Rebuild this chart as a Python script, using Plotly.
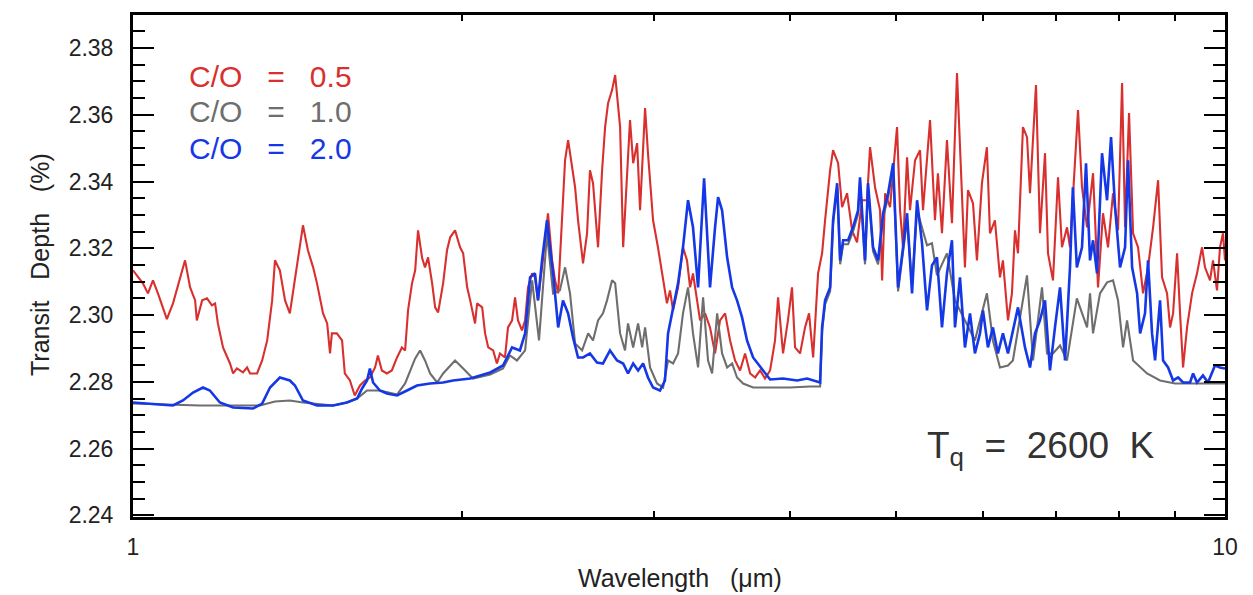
import plotly.graph_objects as go

# ---- data (wavelength in micron, transit depth in %) ----
wl_co05 = [1.000, 1.021, 1.032, 1.043, 1.054, 1.074, 1.088, 1.104, 1.116, 1.128,
           1.140, 1.144, 1.157, 1.169, 1.181, 1.189, 1.196, 1.209, 1.227, 1.235,
           1.245, 1.261, 1.272, 1.280, 1.299, 1.313, 1.327, 1.341, 1.349, 1.363,
           1.378, 1.392, 1.413, 1.431, 1.446, 1.462, 1.474, 1.493, 1.506, 1.515,
           1.521, 1.537, 1.554, 1.563, 1.580, 1.596, 1.614, 1.631, 1.648, 1.666,
           1.676, 1.690, 1.708, 1.726, 1.745, 1.763, 1.775, 1.786, 1.801, 1.813,
           1.824, 1.840, 1.851, 1.863, 1.879, 1.891, 1.903, 1.923, 1.939, 1.952,
           1.972, 1.993, 2.006, 2.023, 2.036, 2.057, 2.066, 2.088, 2.101, 2.115,
           2.137, 2.154, 2.168, 2.191, 2.205, 2.224, 2.238, 2.252, 2.271, 2.286,
           2.300, 2.320, 2.334, 2.349, 2.369, 2.384, 2.399, 2.420, 2.435, 2.451,
           2.471, 2.487, 2.503, 2.524, 2.540, 2.556, 2.583, 2.605, 2.621, 2.638,
           2.666, 2.689, 2.706, 2.723, 2.746, 2.764, 2.793, 2.811, 2.852, 2.871,
           2.895, 2.913, 2.944, 2.962, 2.994, 3.025, 3.058, 3.083, 3.103, 3.123,
           3.156, 3.189, 3.216, 3.237, 3.257, 3.285, 3.306, 3.341, 3.376, 3.412,
           3.448, 3.485, 3.522, 3.559, 3.597, 3.635, 3.674, 3.713, 3.752, 3.791,
           3.832, 3.872, 3.897, 3.938, 3.979, 4.013, 4.039, 4.082, 4.125, 4.160,
           4.196, 4.240, 4.276, 4.303, 4.349, 4.376, 4.423, 4.460, 4.507, 4.555,
           4.603, 4.652, 4.701, 4.731, 4.781, 4.832, 4.853, 4.884, 4.935, 5.008,
           5.040, 5.072, 5.115, 5.147, 5.202, 5.257, 5.290,
           5.369, 5.425, 5.459, 5.506, 5.564, 5.623, 5.683, 5.743, 5.779, 5.816,
           5.878, 5.927, 5.990, 6.053, 6.092, 6.156, 6.222, 6.261, 6.328, 6.381,
           6.422, 6.463, 6.531, 6.587, 6.629, 6.713, 6.770, 6.842, 6.885, 6.958,
           7.032, 7.091, 7.167, 7.212, 7.335, 7.397, 7.476, 7.571, 7.651, 7.732,
           7.814, 7.897, 7.981, 8.049, 8.100, 8.168, 8.238, 8.325, 8.413, 8.502,
           8.593, 8.684, 8.757, 8.850, 8.906, 8.963, 9.039, 9.096, 9.154, 9.231,
           9.329, 9.427, 9.527, 9.587, 9.689, 9.750, 9.833, 9.895, 9.958, 10.000]
depth_co05 = [2.3134, 2.3095, 2.3065, 2.3104, 2.3065, 2.2988, 2.3035, 2.3113, 2.3164, 2.3083,
              2.3044, 2.2984, 2.3044, 2.3050, 2.3029, 2.3035, 2.2975, 2.2903, 2.2855, 2.2825,
              2.2840, 2.2828, 2.2843, 2.2825, 2.2825, 2.2864, 2.2924, 2.3044, 2.3164, 2.3134,
              2.3044, 2.3005, 2.3143, 2.3269, 2.3194, 2.3143, 2.3095, 2.3005, 2.2975, 2.2885,
              2.2945, 2.2945, 2.2924, 2.2825, 2.2804, 2.2759, 2.2789, 2.2804, 2.2813, 2.2843,
              2.2879, 2.2834, 2.2825, 2.2834, 2.2873, 2.2903, 2.2894, 2.3014, 2.3095, 2.3134,
              2.3254, 2.3170, 2.3143, 2.3173, 2.3095, 2.3023, 2.3008, 2.3095, 2.3194, 2.3233,
              2.3254, 2.3203, 2.3185, 2.3083, 2.3044, 2.2975, 2.3035, 2.3023, 2.2945, 2.2903,
              2.2894, 2.2855, 2.2885, 2.2873, 2.2963, 2.2984, 2.3053, 2.2984, 2.2954, 2.2984,
              2.3083, 2.3125, 2.3113, 2.3044, 2.3143, 2.3233, 2.3305, 2.3164, 2.3104, 2.3065,
              2.3314, 2.3464, 2.3524, 2.3443, 2.3383, 2.3284, 2.3155, 2.3245, 2.3434, 2.3395,
              2.3203, 2.3434, 2.3563, 2.3635, 2.3674, 2.3719, 2.3563, 2.3203, 2.3584, 2.3455,
              2.3515, 2.3314, 2.3620, 2.3485, 2.3284, 2.3203, 2.3104, 2.3035, 2.3074, 2.3014,
              2.3083, 2.3203, 2.3164, 2.3083, 2.3125, 2.3035, 2.2984, 2.3005, 2.2963, 2.2885,
              2.2984, 2.3005, 2.2924, 2.2864, 2.2834, 2.2885, 2.2825, 2.2813, 2.2834, 2.2810,
              2.2834, 2.2924, 2.3053, 2.2885, 2.2984, 2.3083, 2.2903, 2.2885, 2.2963, 2.3005,
              2.2873, 2.3125, 2.3185, 2.3284, 2.3434, 2.3494, 2.3455, 2.3323, 2.3365, 2.3254,
              2.3218, 2.3344, 2.3344, 2.3503, 2.3383, 2.3314, 2.3104, 2.3365, 2.3323, 2.3563,
              2.3314, 2.3203, 2.3473, 2.3314, 2.3464, 2.3494, 2.3314,
              2.3584, 2.3284, 2.3425, 2.3245, 2.3524, 2.3275, 2.3725, 2.3344, 2.3143, 2.3374,
              2.3335, 2.3164, 2.3395, 2.3503, 2.3245, 2.3284, 2.3113, 2.3164, 2.2984, 2.3065,
              2.3254, 2.3185, 2.3563, 2.3533, 2.3365, 2.3689, 2.3245, 2.3485, 2.3185, 2.3104,
              2.3413, 2.3203, 2.3263, 2.3203, 2.3614, 2.3383, 2.3263, 2.3425, 2.3083, 2.3305,
              2.3203, 2.3365, 2.3254, 2.3695, 2.3263, 2.3605, 2.3245, 2.3203, 2.3065, 2.3143,
              2.3263, 2.3404, 2.3113, 2.3065, 2.2963, 2.3005, 2.3185, 2.3005, 2.2843, 2.2963,
              2.3065, 2.3125, 2.3203, 2.3143, 2.3104, 2.3164, 2.3074, 2.3203, 2.3245, 2.3164]

wl_co10 = [1.000, 1.152, 1.307, 1.349, 1.392, 1.431, 1.525, 1.570, 1.604, 1.638,
           1.683, 1.745, 1.775, 1.794, 1.813, 1.832, 1.851, 1.871, 1.899, 1.923,
           1.952, 1.972, 2.006, 2.048, 2.124, 2.182, 2.214, 2.247, 2.286, 2.320,
           2.354, 2.394, 2.425, 2.460, 2.487, 2.513, 2.540, 2.578, 2.611, 2.638,
           2.666, 2.694, 2.717, 2.746, 2.764, 2.793, 2.822, 2.840, 2.871, 2.901,
           2.926, 2.944, 2.975, 3.019, 3.058, 3.090, 3.123, 3.156, 3.189, 3.223,
           3.257, 3.292, 3.327, 3.362, 3.391, 3.427, 3.463, 3.500, 3.537, 3.574,
           3.620, 3.697, 3.808, 3.997, 4.169,
           4.258, 4.276, 4.303, 4.349, 4.376, 4.414, 4.442, 4.470, 4.517, 4.564,
           4.613, 4.632, 4.681, 4.711, 4.761, 4.812, 4.863, 4.915, 4.967, 5.019,
           5.072, 5.115, 5.169, 5.224, 5.335, 5.391, 5.448, 5.564, 5.659, 5.779,
           5.902, 6.053, 6.130, 6.222, 6.328, 6.394, 6.587, 6.671, 6.799, 6.871,
           6.958, 7.062, 7.167, 7.317, 7.476, 7.523, 7.571, 7.683, 7.798, 7.897,
           7.981, 8.066, 8.134, 8.238, 8.361, 8.484, 8.720, 9.001, 9.487, 10.000]
depth_co10 = [2.2735, 2.2729, 2.2729, 2.2741, 2.2744, 2.2738, 2.2729, 2.2738, 2.2750, 2.2774,
              2.2774, 2.2762, 2.2795, 2.2834, 2.2870, 2.2894, 2.2864, 2.2825, 2.2798, 2.2825,
              2.2849, 2.2864, 2.2840, 2.2810, 2.2822, 2.2840, 2.2879, 2.2864, 2.2894, 2.3104,
              2.2924, 2.3245, 2.3065, 2.3074, 2.3143, 2.3065, 2.2915, 2.2894, 2.2945, 2.2924,
              2.2984, 2.3005, 2.3044, 2.3104, 2.3095, 2.2945, 2.2894, 2.2975, 2.2903, 2.2975,
              2.2903, 2.2963, 2.2843, 2.2795, 2.2783, 2.2864, 2.2855, 2.2885, 2.3005, 2.3083,
              2.2945, 2.2843, 2.3053, 2.2864, 2.2825, 2.3005, 2.2885, 2.2843, 2.2855, 2.2813,
              2.2795, 2.2783, 2.2783, 2.2783, 2.2786,
              2.2786, 2.2951, 2.3032, 2.3071, 2.3272, 2.3383, 2.3152, 2.3212, 2.3212, 2.3251,
              2.3302, 2.3401, 2.3152, 2.3383, 2.3191, 2.3152, 2.3293, 2.3353, 2.3443, 2.3071,
              2.3191, 2.3284, 2.3089, 2.3314, 2.3209, 2.3215, 2.3119, 2.3185, 2.3044, 2.2984,
              2.2924, 2.3065, 2.2924, 2.2843, 2.2849, 2.2864, 2.3119, 2.2864, 2.3083, 2.2885,
              2.2885, 2.2909, 2.2864, 2.3050, 2.2963, 2.3065, 2.2945, 2.3065, 2.3098, 2.3104,
              2.3044, 2.2903, 2.2984, 2.2864, 2.2843, 2.2825, 2.2804, 2.2795, 2.2795, 2.2795]

wl_co20 = [1.000, 1.036, 1.088, 1.111, 1.135, 1.159, 1.176, 1.201, 1.235, 1.288,
           1.313, 1.335, 1.363, 1.392, 1.407, 1.431, 1.474, 1.525, 1.570, 1.604,
           1.621, 1.638, 1.648, 1.659, 1.683, 1.708, 1.745, 1.782, 1.820, 1.871,
           1.923, 1.964, 2.036, 2.124, 2.182, 2.224, 2.261, 2.286, 2.310, 2.334,
           2.349, 2.369, 2.394, 2.409, 2.425, 2.451, 2.476, 2.503, 2.529, 2.556,
           2.583, 2.621, 2.660, 2.694, 2.734, 2.775, 2.811, 2.840, 2.871, 2.901,
           2.932, 2.962, 2.994, 3.038, 3.070, 3.090, 3.123, 3.156, 3.189, 3.223,
           3.257, 3.292, 3.334, 3.376, 3.412, 3.434, 3.463, 3.500, 3.537, 3.574,
           3.612, 3.650, 3.697, 3.736, 3.776, 3.832, 3.938, 4.056, 4.143, 4.258,
           4.276, 4.303, 4.349, 4.376, 4.414, 4.442, 4.470, 4.517, 4.564, 4.613,
           4.632, 4.681, 4.711, 4.761, 4.812, 4.863, 4.915, 4.967, 5.019, 5.072,
           5.115, 5.169, 5.224, 5.279, 5.335, 5.391, 5.448, 5.506, 5.564, 5.623,
           5.659, 5.719, 5.779, 5.841, 5.902, 5.965, 6.003, 6.066, 6.130, 6.195,
           6.261, 6.328, 6.394, 6.463, 6.559, 6.629, 6.699, 6.770, 6.842, 6.914,
           6.987, 7.062, 7.137, 7.212, 7.256, 7.317, 7.397, 7.460, 7.523, 7.571,
           7.635, 7.716, 7.798, 7.864, 7.931, 8.015, 8.100, 8.151, 8.221, 8.308,
           8.361, 8.448, 8.502, 8.574, 8.629, 8.720, 8.776, 8.869, 8.963, 9.059,
           9.154, 9.290, 9.349, 9.427, 9.546, 9.648, 9.791, 9.895, 10.000]
depth_co20 = [2.2738, 2.2735, 2.2729, 2.2744, 2.2768, 2.2783, 2.2774, 2.2738, 2.2723, 2.2720,
              2.2735, 2.2783, 2.2813, 2.2804, 2.2789, 2.2744, 2.2729, 2.2729, 2.2738, 2.2750,
              2.2780, 2.2804, 2.2840, 2.2798, 2.2774, 2.2765, 2.2759, 2.2774, 2.2789, 2.2795,
              2.2798, 2.2804, 2.2810, 2.2828, 2.2849, 2.2903, 2.2894, 2.2945, 2.3113, 2.3125,
              2.3044, 2.3164, 2.3284, 2.3203, 2.3125, 2.2963, 2.3044, 2.3005, 2.2933, 2.2873,
              2.2873, 2.2885, 2.2858, 2.2855, 2.2894, 2.2864, 2.2855, 2.2825, 2.2855, 2.2834,
              2.2855, 2.2813, 2.2783, 2.2774, 2.2804, 2.2945, 2.3023, 2.3095, 2.3203, 2.3344,
              2.3263, 2.3083, 2.3410, 2.3083, 2.3263, 2.3353, 2.3314, 2.3173, 2.3083, 2.3044,
              2.2993, 2.2924, 2.2873, 2.2855, 2.2834, 2.2807, 2.2810, 2.2804, 2.2810, 2.2798,
              2.2963, 2.3044, 2.3083, 2.3284, 2.3395, 2.3164, 2.3224, 2.3224, 2.3263, 2.3314,
              2.3413, 2.3164, 2.3395, 2.3203, 2.3164, 2.3305, 2.3365, 2.3455, 2.3083, 2.3203,
              2.3305, 2.3065, 2.3344, 2.3215, 2.3014, 2.3149, 2.3173, 2.2963, 2.3125, 2.3224,
              2.2963, 2.3113, 2.2903, 2.3005, 2.2885, 2.2945, 2.3014, 2.2903, 2.2963, 2.2885,
              2.2945, 2.2885, 2.2954, 2.3023, 2.2903, 2.2843, 2.2945, 2.2984, 2.3044, 2.2834,
              2.2963, 2.3083, 2.2864, 2.3143, 2.3383, 2.3143, 2.3203, 2.3455, 2.3164, 2.3224,
              2.3125, 2.3485, 2.3344, 2.3533, 2.3323, 2.3143, 2.3203, 2.3464, 2.3143, 2.3065,
              2.2945, 2.3005, 2.3164, 2.2945, 2.2864, 2.3044, 2.2864, 2.2843, 2.2804, 2.2813,
              2.2798, 2.2798, 2.2825, 2.2798, 2.2819, 2.2798, 2.2849, 2.2843, 2.2840]

series_labels = ["C/O = 0.5", "C/O = 1.0", "C/O = 2.0"]
series_colors = ["#D8302E", "#6E6E6E", "#1538E6"]
y_tick_values = [2.24, 2.26, 2.28, 2.30, 2.32, 2.34, 2.36, 2.38]
x_tick_values = [1, 10]
x_tick_labels = ["1", "10"]

assert len(wl_co05) == len(depth_co05)
assert len(wl_co10) == len(depth_co10)
assert len(wl_co20) == len(depth_co20)

FONT = "Liberation Sans, Arial, Helvetica, sans-serif"
NB = "\u00a0"

fig = go.Figure()
fig.add_trace(go.Scatter(x=wl_co05, y=depth_co05, mode="lines", name=series_labels[0],
                         line=dict(color=series_colors[0], width=2.1)))
fig.add_trace(go.Scatter(x=wl_co10, y=depth_co10, mode="lines", name=series_labels[1],
                         line=dict(color=series_colors[1], width=2.1)))
fig.add_trace(go.Scatter(x=wl_co20, y=depth_co20, mode="lines", name=series_labels[2],
                         line=dict(color=series_colors[2], width=2.6)))

fig.update_layout(
    width=1253, height=595,
    margin=dict(l=133, r=28, t=15, b=78),
    paper_bgcolor="white", plot_bgcolor="white",
    showlegend=False,
    font=dict(family=FONT, color="#222222"),
)

fig.update_xaxes(
    type="log", range=[0, 1],
    tickvals=x_tick_values, ticktext=x_tick_labels,
    ticks="inside", ticklen=4, tickwidth=2, tickcolor="black",
    tickfont=dict(size=23, family=FONT, color="#222222"),
    ticklabelstandoff=7,
    minor=dict(ticks="inside", tickvals=[2, 3, 4, 5, 6, 7, 8, 9], ticklen=6,
               tickwidth=2, tickcolor="black"),
    showline=True, linewidth=3, linecolor="black", mirror="ticks",
    showgrid=False, zeroline=False,
)
fig.update_yaxes(
    range=[2.2395, 2.3899],
    tickvals=y_tick_values,
    ticktext=["%.2f" % v for v in y_tick_values],
    ticks="inside", ticklen=21, tickwidth=2, tickcolor="black",
    tickfont=dict(size=23, family=FONT, color="#222222"),
    ticklabelstandoff=12,
    minor=dict(ticks="inside", dtick=0.005, tick0=2.24, ticklen=12,
               tickwidth=2, tickcolor="black"),
    showline=True, linewidth=3, linecolor="black", mirror="ticks",
    showgrid=False, zeroline=False,
)

# series labels (in-plot legend)
legend_y = [0.8765, 0.807, 0.735]
for lab, col, yy in zip(series_labels, series_colors, legend_y):
    txt = lab.replace(" ", NB * 3)
    fig.add_annotation(text=txt, xref="paper", yref="paper", x=0.049, y=yy,
                       xanchor="left", yanchor="middle", showarrow=False,
                       font=dict(size=30, family=FONT, color=col))

# temperature label
fig.add_annotation(text="T<sub>q</sub>" + NB * 2 + "=" + NB * 2 + "2600" + NB * 2 + "K",
                   xref="paper", yref="paper", x=(925 - 133) / 1092, y=(517 - 448) / 502,
                   xanchor="left", yanchor="middle", showarrow=False,
                   font=dict(size=37, family=FONT, color="#333333"))

# axis titles
fig.add_annotation(text="Wavelength" + NB * 3 + "(\u03bcm)", xref="paper", yref="paper",
                   x=0.501, y=-61 / 502, xanchor="center", yanchor="middle",
                   showarrow=False, font=dict(size=25, family=FONT, color="#222222"))
fig.add_annotation(text="Transit" + NB * 3 + "Depth" + NB * 3 + "(%)", xref="paper", yref="paper",
                   x=(40 - 133) / 1092, y=0.502, xanchor="center", yanchor="middle",
                   textangle=-90, showarrow=False,
                   font=dict(size=25, family=FONT, color="#222222"))

fig.write_html("out.html")
